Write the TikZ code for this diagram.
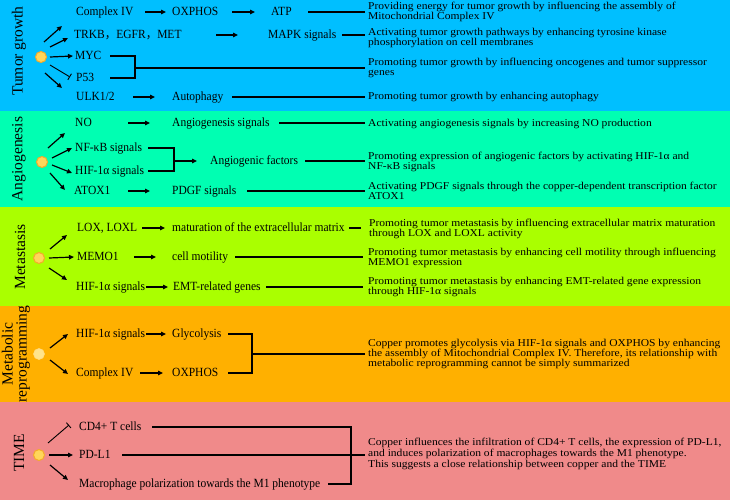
\documentclass[tikz,border=0pt]{standalone}
\usepackage{fontspec}
\setmainfont{Liberation Serif}[FakeStretch=1.1]
\newfontfamily\labelfont{Liberation Serif}
\newfontfamily\leftfont{Liberation Serif}[FakeStretch=0.92]
\newfontfamily\cjk{Noto Sans CJK SC}[FakeStretch=0.92]
\usetikzlibrary{arrows.meta}
\definecolor{cTumor}{RGB}{0,191,255}
\definecolor{cAngio}{RGB}{0,255,178}
\definecolor{cMeta}{RGB}{170,255,0}
\definecolor{cMetab}{RGB}{255,176,0}
\definecolor{cTime}{RGB}{240,138,138}
\definecolor{dotfill}{RGB}{255,214,90}
\definecolor{dotdraw}{RGB}{245,170,40}
\definecolor{dotpale}{RGB}{255,228,140}
\tikzset{
 txt/.style={inner sep=0pt, anchor=west, text height=8.8pt, text depth=2.6pt, font=\leftfont\fontsize{12.5}{12}\selectfont},
 rtxt/.style={inner sep=0pt, anchor=west, align=left, font=\fontsize{10.5}{10}\selectfont},
 rtxts/.style={inner sep=0pt, anchor=west, align=left, font=\fontsize{10.5}{8.2}\selectfont},
 arr/.style={-{Triangle[length=5pt,width=4.5pt]}, line width=1.2pt},
 inh/.style={-{Bar[width=7pt]}, line width=0.9pt},
 ln/.style={line width=1.2pt},
 cudot/.style={circle, minimum size=11pt, inner sep=0pt, fill=dotfill, draw=dotdraw, line width=1pt},
 cudotpale/.style={circle, minimum size=11pt, inner sep=0pt, fill=dotpale, draw=dotpale!90!orange, line width=0.6pt},
 lab/.style={rotate=90, inner sep=0pt, font=\labelfont\fontsize{15.5}{14}\selectfont, align=center}
}
\begin{document}
\begin{tikzpicture}[x=1pt,y=-1pt]
\useasboundingbox (0,0) rectangle (730,500);
% bands
\fill[cTumor] (0,0) rectangle (730,111);
\fill[cAngio] (0,111) rectangle (730,207);
\fill[cMeta] (0,207) rectangle (730,306);
\fill[cMetab] (0,306) rectangle (730,402);
\fill[cTime] (0,402) rectangle (730,500);
% band labels
\node[lab] (lTumor) at (19,51) {Tumor growth};
\node[lab] (lAngio) at (19,159) {Angiogenesis};
\node[lab] (lMeta) at (20,257) {Metastasis};
\node[lab] (lMetab) at (16,354) {Metabolic\\reprogramming};
\node[lab] (lTime) at (19,453) {TIME};

% ================= Tumor growth
\node[cudot] (d1) at (41,57) {};
\node[txt] (c4) at (76,12) {Complex IV};
\node[txt] (ox) at (172,12) {OXPHOS};
\node[txt] (atp) at (271,12) {ATP};
\node[rtxt] (r1) at (368,12) {Providing energy for tumor growth by influencing the assembly of\\Mitochondrial Complex IV};
\node[txt] (trkb) at (74,35) {TRKB{\cjk ，}EGFR{\cjk ，}MET};
\node[txt] (mapk) at (268,35) {MAPK signals};
\node[rtxt] (r2) at (368,38) {Activating tumor growth pathways by enhancing tyrosine kinase\\phosphorylation on cell membranes};
\node[txt] (myc) at (75,56) {MYC};
\node[txt] (p53) at (76,78) {P53};
\node[rtxt] (r3) at (368,68) {Promoting tumor growth by influencing oncogenes and tumor suppressor\\genes};
\node[txt] (ulk) at (76,97) {ULK1/2};
\node[txt] (auto) at (172,97) {Autophagy};
\node[rtxt] (r4) at (368,97) {Promoting tumor growth by enhancing autophagy};

\draw[arr] ([shift={(3,-15)}]d1.center) -- ([shift={(21,-31)}]d1.center);
\draw[arr] ([shift={(9,-10)}]d1.center) -- ([shift={(27,-19)}]d1.center);
\draw[arr] ([shift={(9,0)}]d1.center) -- ([xshift=-2pt]myc.west);
\draw[inh] ([shift={(9,8)}]d1.center) -- ([shift={(29,20)}]d1.center);
\draw[arr] ([shift={(4,16)}]d1.center) -- ([shift={(21,31)}]d1.center);

\draw[arr] (c4 -| 145,0) -- (ox -| 166,0);
\draw[arr] (ox -| 232,0) -- (atp -| 255,0);
\draw[ln] (atp -| 308,0) -- ([xshift=-3pt]r1.west |- atp);
\draw[arr] (trkb -| 216,0) -- (mapk -| 238,0);
\draw[ln] (mapk -| 342,0) -- ([xshift=-3pt]r2.west |- mapk);
\draw[ln] (myc -| 110,0) -- (myc -| 135,0) -- (p53 -| 135,0) -- (p53 -| 110,0);
\draw[ln] (r3.west -| 135,0) -- ([xshift=-3pt]r3.west);
\draw[arr] (ulk -| 133,0) -- (auto -| 155,0);
\draw[ln] (auto -| 232,0) -- ([xshift=-3pt]r4.west |- auto);

% ================= Angiogenesis
\node[cudot] (d2) at (42,162) {};
\node[txt] (no) at (75,123) {NO};
\node[txt] (angs) at (172,123) {Angiogenesis signals};
\node[rtxt] (r5) at (368,124) {Activating angiogenesis signals by increasing NO production};
\node[txt] (nfkb) at (75,148) {NF-κB signals};
\node[txt] (hif) at (75,171) {HIF-1α signals};
\node[txt] (angf) at (210,161) {Angiogenic factors};
\node[rtxt] (r6) at (368,162) {Promoting expression of angiogenic factors by activating HIF-1α and\\NF-κB signals};
\node[txt] (atox) at (74,191) {ATOX1};
\node[txt] (pdgf) at (172,191) {PDGF signals};
\node[rtxt] (r7) at (368,191) {Activating PDGF signals through the copper-dependent transcription factor\\ATOX1};

\draw[arr] ([shift={(6,-14)}]d2.center) -- ([shift={(23,-29)}]d2.center);
\draw[arr] ([shift={(10,-4)}]d2.center) -- ([shift={(30,-14)}]d2.center);
\draw[arr] ([shift={(10,3)}]d2.center) -- ([shift={(30,11)}]d2.center);
\draw[arr] ([shift={(8,11)}]d2.center) -- ([shift={(23,28)}]d2.center);

\draw[arr] (no -| 128,0) -- (angs -| 150,0);
\draw[ln] (angs -| 279,0) -- ([xshift=-3pt]r5.west |- angs);
\draw[ln] (nfkb -| 148,0) -- (nfkb -| 174,0) -- (hif -| 174,0) -- (hif -| 148,0);
\draw[arr] (angf -| 174,0) -- (angf -| 197,0);
\draw[ln] (angf -| 305,0) -- ([xshift=-3pt]r6.west |- angf);
\draw[arr] (atox -| 128,0) -- (pdgf -| 150,0);
\draw[ln] (pdgf -| 247,0) -- ([xshift=-3pt]r7.west |- pdgf);

% ================= Metastasis
\node[cudot] (d3) at (39,258) {};
\node[txt] (lox) at (77,228) {LOX, LOXL};
\node[txt] (ecm) at (172,228) {maturation of the extracellular matrix};
\node[rtxt] (r8) at (369,229) {Promoting tumor metastasis by influencing extracellular matrix maturation\\through LOX and LOXL activity};
\node[txt] (memo) at (77,257) {MEMO1};
\node[txt] (cm) at (172,257) {cell motility};
\node[rtxt] (r9) at (368,258) {Promoting tumor metastasis by enhancing cell motility through influencing\\MEMO1 expression};
\node[txt] (hif2) at (76,287) {HIF-1α signals};
\node[txt] (emt) at (173,287) {EMT-related genes};
\node[rtxt] (r10) at (368,287) {Promoting tumor metastasis by enhancing EMT-related gene expression\\through HIF-1α signals};

\draw[arr] ([shift={(11,-9)}]d3.center) -- ([shift={(28,-23)}]d3.center);
\draw[arr] ([shift={(10,0)}]d3.center) -- ([xshift=-3pt]memo.west);
\draw[arr] ([shift={(10,10)}]d3.center) -- ([shift={(28,22)}]d3.center);

\draw[arr] (lox -| 142,0) -- (ecm -| 165,0);
\draw[ln] (ecm -| 349,0) -- ([xshift=-8pt]r8.west |- ecm);
\draw[arr] (memo -| 134,0) -- (cm -| 156,0);
\draw[ln] (cm -| 235,0) -- ([xshift=-5pt]r9.west |- cm);
\draw[arr] (hif2 -| 146,0) -- (emt -| 168,0);
\draw[ln] (emt -| 266,0) -- ([xshift=-5pt]r10.west |- emt);

% ================= Metabolic reprogramming
\node[cudotpale] (d4) at (39,354) {};
\node[txt] (hif3) at (76,334) {HIF-1α signals};
\node[txt] (gly) at (172,334) {Glycolysis};
\node[txt] (c4b) at (76,373) {Complex IV};
\node[txt] (ox2) at (172,373) {OXPHOS};
\node[rtxt] (r11) at (368,354) {Copper promotes glycolysis via HIF-1α signals and OXPHOS by enhancing\\the assembly of Mitochondrial Complex IV. Therefore, its relationship with\\metabolic reprogramming cannot be simply summarized};

\draw[arr] ([shift={(11,-6)}]d4.center) -- ([shift={(29,-20)}]d4.center);
\draw[arr] ([shift={(11,6)}]d4.center) -- ([shift={(29,20)}]d4.center);
\draw[arr] (hif3 -| 146,0) -- (gly -| 166,0);
\draw[arr] (c4b -| 140,0) -- (ox2 -| 163,0);
\draw[ln] (gly -| 228,0) -- (gly -| 252,0) -- (ox2 -| 252,0) -- (ox2 -| 228,0);
\draw[ln] (r11.west -| 252,0) -- ([xshift=-3pt]r11.west);

% ================= TIME
\node[cudot] (d5) at (39,455) {};
\node[txt] (cd4) at (79,427) {CD4+ T cells};
\node[txt] (pdl1) at (79,455) {PD-L1};
\node[txt] (mac) at (79,484) {Macrophage polarization towards the M1 phenotype};
\node[rtxts] (r12) at (368,454) {Copper influences the infiltration of CD4+ T cells, the expression of PD-L1,\\and induces polarization of macrophages towards the M1 phenotype.\\This suggests a close relationship between copper and the TIME};

\draw[inh] ([shift={(9,-12)}]d5.center) -- ([shift={(30,-30)}]d5.center);
\draw[arr] ([shift={(10,0)}]d5.center) -- ([xshift=-6pt]pdl1.west);
\draw[arr] ([shift={(11,10)}]d5.center) -- ([shift={(29,25)}]d5.center);
\draw[ln] (cd4 -| 152,0) -- (cd4 -| 351,0) -- (mac -| 351,0) -- (mac -| 328,0);
\draw[ln] (pdl1 -| 122,0) -- ([xshift=-3pt]r12.west |- pdl1);
\end{tikzpicture}
\end{document}
